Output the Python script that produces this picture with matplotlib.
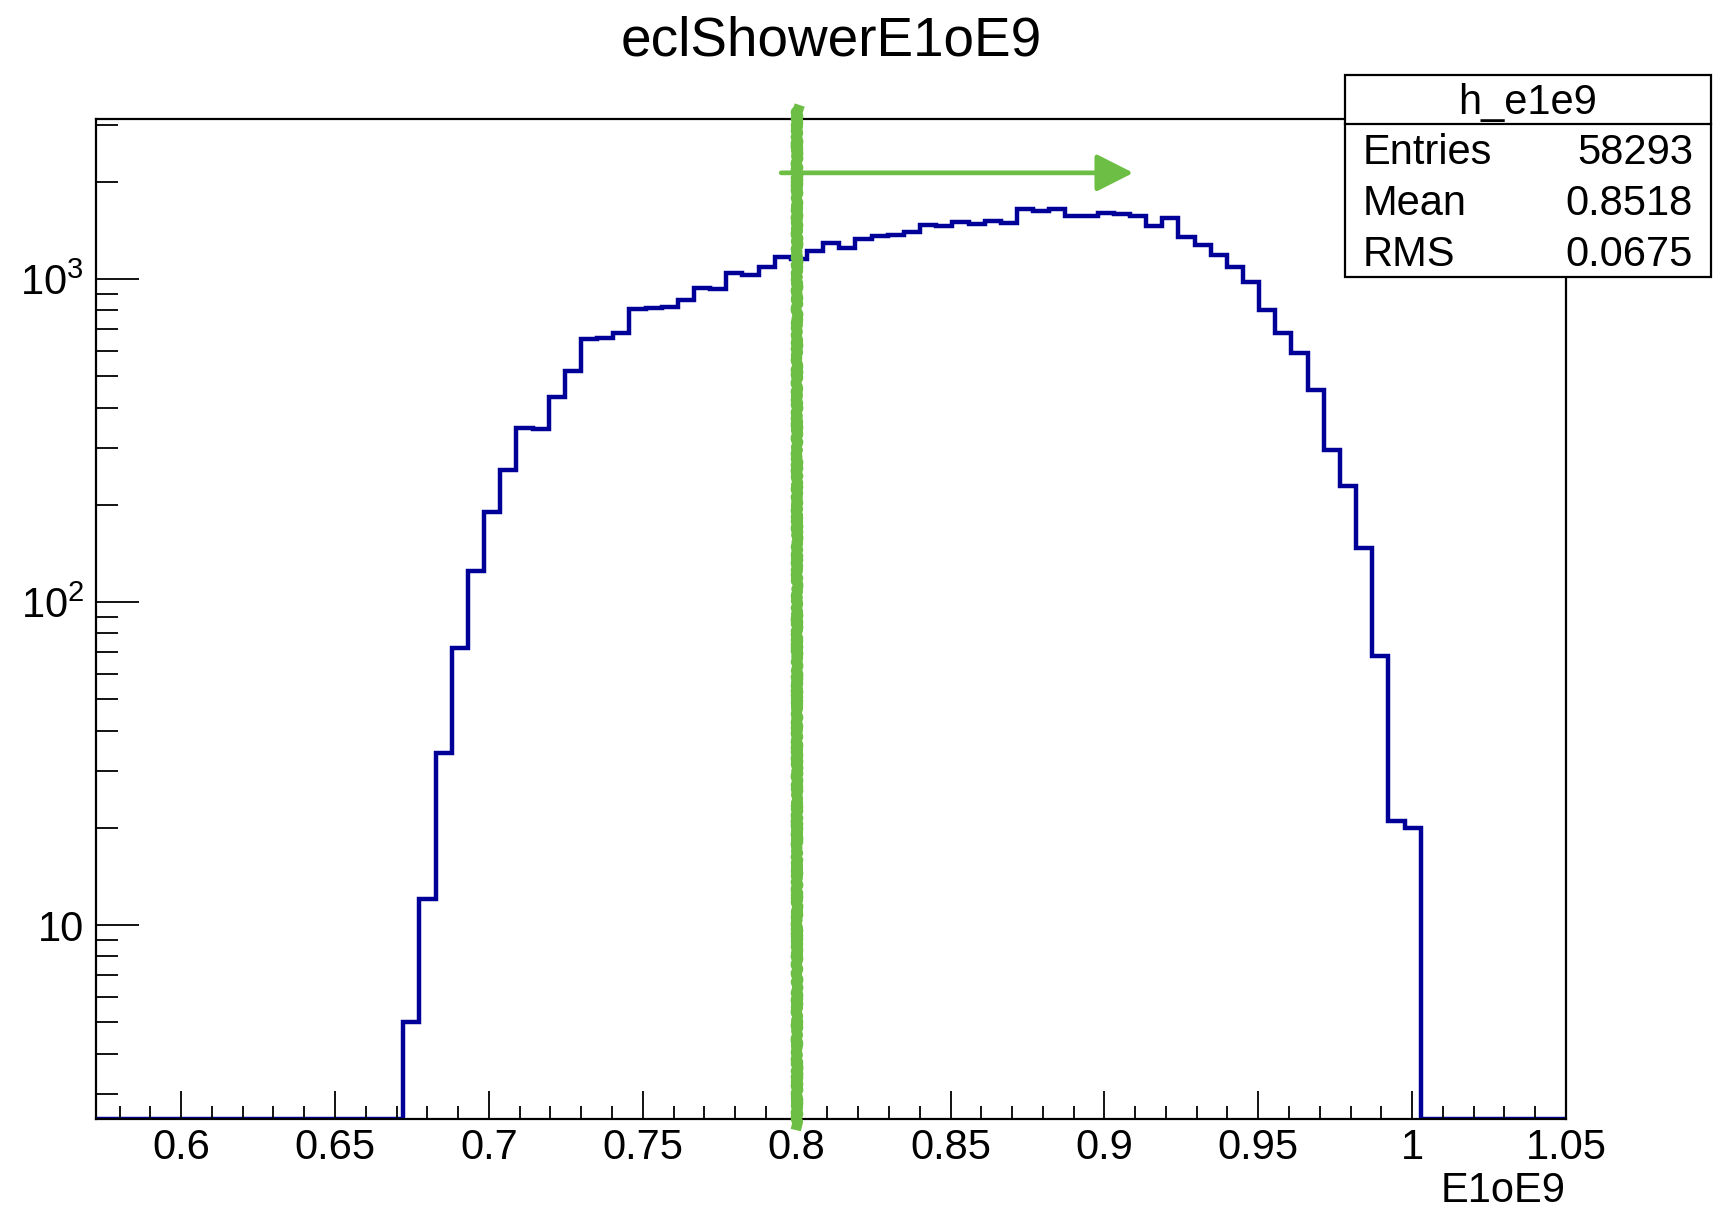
import matplotlib
matplotlib.use("Agg")
import matplotlib.pyplot as plt
import matplotlib.patches as patches
import matplotlib.lines as lines
import numpy as np
from matplotlib.ticker import FixedLocator, FuncFormatter, LogLocator, NullFormatter, MultipleLocator

plt.rcParams["font.family"] = ["Liberation Sans", "DejaVu Sans"]
plt.rcParams["mathtext.fontset"] = "custom"
plt.rcParams["mathtext.rm"] = "Liberation Sans"
plt.rcParams["mathtext.default"] = "regular"

# histogram h_e1e9 (91 bins on [0.5725, 1.05], filled bins start at index 19)
x_lo, x_hi, n_bins = 0.5725, 1.05, 91
first_bin = 19
counts = [5, 12, 34, 72, 125, 190, 256, 345, 343, 432,
          519, 651, 658, 682, 806, 813, 819, 861, 938, 929,
          1041, 1029, 1091, 1172, 1153, 1223, 1290, 1245, 1330, 1359,
          1368, 1401, 1470, 1459, 1505, 1480, 1516, 1487, 1647, 1624,
          1647, 1567, 1567, 1597, 1586, 1565, 1462, 1545, 1350, 1274,
          1187, 1087, 981, 804, 679, 591, 453, 296, 229, 147,
          68, 21, 20]
y_min, y_max = 2.5, 3120

title = "eclShowerE1oE9"
x_title = "E1oE9"
stats_name = "h_e1e9"
stats_rows = [("Entries", "58293"), ("Mean", "0.8518"), ("RMS", "0.0675")]

cut_value = 0.8
arrow_from, arrow_to, arrow_y = 0.795, 0.9094, 2133

edges = np.linspace(x_lo, x_hi, n_bins + 1)
values = np.zeros(n_bins)
values[first_bin:first_bin + len(counts)] = counts
plot_vals = np.where(values > 0, values, y_min)

fig = plt.figure(figsize=(17.25, 12.09), dpi=100)
ax = fig.add_axes([0.05594, 0.07403, 0.85189, 0.82713])

ax.stairs(plot_vals, edges, baseline=None, color="#000099", linewidth=3.2)

ax.set_yscale("log")
ax.set_xlim(x_lo, x_hi)
ax.set_ylim(y_min, y_max)

ax.xaxis.set_major_locator(MultipleLocator(0.05))
ax.xaxis.set_minor_locator(MultipleLocator(0.01))
ax.xaxis.set_major_formatter(FuncFormatter(lambda v, p: "%g" % round(v, 3)))

ax.yaxis.set_major_locator(FixedLocator([10, 100, 1000]))
ax.yaxis.set_minor_locator(LogLocator(base=10, subs=np.arange(2, 10)))
ax.yaxis.set_minor_formatter(NullFormatter())
ax.yaxis.set_major_formatter(FuncFormatter(
    lambda v, p: "10" if round(v) == 10 else "$10^{%d}$" % round(np.log10(v))))

ax.tick_params(which="both", direction="in", top=False, right=False, width=1.3, labelsize=30)
ax.tick_params(axis="x", which="major", length=20, pad=6)
ax.tick_params(axis="x", which="minor", length=9.7)
ax.tick_params(axis="y", which="major", length=31, pad=9)
ax.tick_params(axis="y", which="minor", length=15.5)
for s in ax.spines.values():
    s.set_linewidth(1.6)

ax.set_xlabel(x_title, fontsize=30, loc="right")
ax.xaxis.set_label_coords(1.0, -0.052)

fig.text(0.4817, 0.954, title, ha="center", va="baseline", fontsize=39.5)

# green hand drawn cut marker
green = "#6DBE45"
trans = ax.get_xaxis_transform()
cut = lines.Line2D([cut_value, cut_value], [-0.0055, 1.0095], transform=trans,
                   color=green, linewidth=7.5, clip_on=False, zorder=4)
cut.set_sketch_params(scale=1.2, length=8, randomness=4)
ax.add_line(cut)
ax.annotate("", xy=(arrow_to, arrow_y), xytext=(arrow_from, arrow_y),
            arrowprops=dict(arrowstyle="-|>,head_length=0.75,head_width=0.38",
                            mutation_scale=30, color=green, linewidth=3.4,
                            shrinkA=0, shrinkB=0),
            annotation_clip=False, zorder=4)

# stats box
box = patches.Rectangle((0.7797, 0.7709), 0.2122, 0.1671, transform=fig.transFigure,
                        facecolor="white", edgecolor="black", linewidth=1.6, zorder=5)
fig.add_artist(box)
fig.add_artist(lines.Line2D([0.7797, 0.9919], [0.8974, 0.8974], transform=fig.transFigure,
                            color="black", linewidth=1.6, zorder=6))
fig.text(0.8858, 0.9057, stats_name, ha="center", va="baseline", fontsize=30, zorder=7)
row_y = [0.8642, 0.8220, 0.7798]
for (name, val), yy in zip(stats_rows, row_y):
    fig.text(0.7901, yy, name, ha="left", va="baseline", fontsize=30, zorder=7)
    fig.text(0.9814, yy, val, ha="right", va="baseline", fontsize=30, zorder=7)

fig.savefig("out.png", dpi=100)
